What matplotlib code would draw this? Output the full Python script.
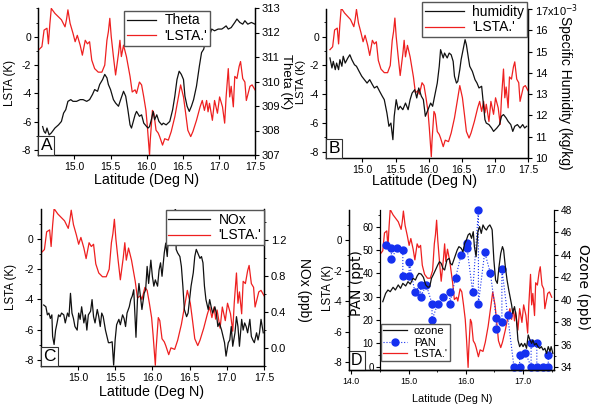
import matplotlib
matplotlib.use('Agg')
import matplotlib.pyplot as plt
from matplotlib.ticker import FixedLocator, MultipleLocator
from matplotlib.lines import Line2D

plt.rcParams['font.family'] = ['Liberation Sans', 'DejaVu Sans']
plt.rcParams['axes.unicode_minus'] = False
plt.rcParams['xtick.major.size'] = 3
plt.rcParams['ytick.major.size'] = 3
plt.rcParams['xtick.minor.size'] = 1.6
plt.rcParams['ytick.minor.size'] = 1.6
plt.rcParams['xtick.major.pad'] = 2
plt.rcParams['ytick.major.pad'] = 2
plt.rcParams['axes.linewidth'] = 0.9

# ---------------- data ----------------
lsta_lat = [14.51,14.55,14.58,14.62,14.64,14.66,14.68,14.73,14.78,14.82,14.87,14.89,14.91,14.94,14.98,
            15.01,15.04,15.08,15.11,15.15,15.18,15.21,15.24,15.28,15.33,15.38,15.42,15.45,15.47,15.49,
            15.51,15.54,15.57,15.61,15.63,15.65,15.68,15.72,15.77,15.80,15.84,15.86,15.90,15.93,15.96,
            15.99,16.01,16.04,16.05,16.08,16.10,16.13,16.16,16.18,16.22,16.25,16.30,16.34,16.39,16.44,
            16.47,16.51,16.54,16.57,16.61,16.64,16.69,16.74,16.77,16.80,16.83,16.85,16.87,16.91,16.94,
            16.98,17.01,17.05,17.08,17.10,17.13,17.15,17.17,17.20,17.22,17.25,17.28,17.30,17.33,17.36,
            17.38,17.40,17.43,17.46,17.50]
lsta = [-0.9,-0.7,0.47,0.6,-0.5,0.9,2.0,1.65,1.4,1.2,0.7,1.2,1.9,0.95,0.25,
        -0.35,0.1,-0.6,-1.3,-0.25,-0.5,-0.35,-1.65,-2.25,-2.5,-2.5,-2.0,-0.25,0.35,1.3,
        0.0,-1.4,-2.7,-1.2,-0.25,-1.4,-0.6,-1.4,-2.8,-3.9,-3.75,-4.0,-3.2,-3.4,-4.25,
        -5.2,-6.35,-8.35,-7.3,-5.2,-5.4,-6.6,-6.8,-7.05,-7.65,-7.2,-7.3,-6.7,-5.65,-4.25,
        -3.4,-4.25,-5.4,-6.6,-7.05,-6.7,-5.9,-4.95,-4.5,-5.2,-4.5,-5.3,-4.7,-5.9,-4.5,
        -5.4,-4.25,-4.95,-6.1,-4.25,-2.25,-4.25,-3.5,-4.95,-2.8,-2.95,-2.1,-1.75,-2.95,-3.2,
        -4.5,-4.1,-3.5,-3.4,-3.75]

theta_lat = [14.56,14.58,14.60,14.62,14.65,14.68,14.73,14.78,14.82,14.85,14.88,14.91,14.95,14.98,15.03,
             15.08,15.12,15.17,15.21,15.25,15.28,15.32,15.35,15.39,15.42,15.45,15.47,15.50,15.54,15.57,
             15.61,15.64,15.68,15.71,15.74,15.77,15.79,15.84,15.86,15.90,15.93,15.96,16.00,16.02,16.04,
             16.07,16.09,16.11,16.14,16.17,16.21,16.23,16.27,16.32,16.36,16.39,16.42,16.45,16.48,16.51,
             16.53,16.56,16.59,16.62,16.65,16.69,16.73,16.76,16.79,16.82,16.84,16.87,16.90,16.94,16.99,
             17.04,17.07,17.10,17.13,17.17,17.22,17.25,17.29,17.33,17.36,17.40,17.45,17.50]
theta = [308.16,307.96,307.89,308.1,307.82,307.9,308.1,308.23,308.37,308.71,308.85,309.19,309.26,309.19,309.19,
         309.26,309.26,309.19,309.26,309.47,309.67,309.6,309.88,310.08,310.29,310.15,309.88,309.67,309.26,309.12,
         308.99,309.26,309.6,309.4,308.85,308.23,308.1,308.64,308.78,308.58,308.64,308.3,308.16,308.1,308.16,
         308.5,308.78,308.44,308.64,308.37,308.23,308.3,308.23,308.37,308.85,309.4,310.08,310.42,310.29,310.08,
         309.4,308.99,308.78,308.99,309.26,309.81,310.63,311.18,311.32,311.73,312.0,311.86,312.14,312.07,312.14,
         312.14,312.2,312.27,312.14,312.2,312.41,312.55,312.41,312.34,312.48,312.34,312.41,312.34]

hum_lat = [14.51,14.54,14.56,14.59,14.61,14.64,14.66,14.69,14.71,14.74,14.78,14.81,14.84,14.88,14.91,
           14.95,14.99,15.03,15.07,15.11,15.15,15.18,15.22,15.26,15.30,15.33,15.37,15.40,15.43,15.46,
           15.48,15.51,15.54,15.57,15.61,15.65,15.69,15.72,15.75,15.79,15.82,15.85,15.89,15.92,15.95,
           15.99,16.03,16.06,16.09,16.13,16.16,16.18,16.22,16.24,16.28,16.31,16.34,16.37,16.39,16.42,
           16.44,16.47,16.49,16.52,16.55,16.57,16.60,16.62,16.66,16.70,16.73,16.76,16.80,16.82,16.85,
           16.87,16.91,16.95,16.98,17.03,17.07,17.10,17.13,17.17,17.20,17.24,17.27,17.30,17.34,17.38,
           17.42,17.45,17.48]
humidity = [14.70,14.23,14.54,14.15,14.46,14.15,14.62,14.31,14.78,14.46,14.70,14.85,14.62,14.38,14.31,
            14.07,13.84,13.68,13.52,13.68,13.45,13.29,13.37,13.13,12.90,12.74,12.11,11.49,11.64,10.86,
            11.96,12.74,12.27,12.43,12.27,12.58,12.27,12.74,13.05,13.21,12.82,13.29,12.90,12.74,11.96,
            12.27,12.58,12.43,12.90,13.52,14.31,15.09,14.70,14.93,14.70,14.93,14.85,14.54,13.84,13.52,
            13.60,14.15,14.62,15.09,15.56,15.32,14.70,14.31,14.07,13.68,13.52,13.29,13.37,12.74,11.80,
            11.64,11.57,11.41,11.25,11.41,11.57,11.96,12.04,11.88,11.72,11.57,11.25,11.49,11.57,11.41,
            11.57,11.41,11.49]  # x 1e-3 kg/kg

nox_lat = [14.54,14.57,14.59,14.61,14.63,14.65,14.66,14.68,14.70,14.72,14.74,14.76,14.78,14.81,14.83,
           14.86,14.88,14.90,14.92,14.94,14.96,14.99,15.01,15.03,15.05,15.08,15.10,15.12,15.14,15.17,
           15.19,15.21,15.23,15.26,15.28,15.30,15.32,15.34,15.37,15.39,15.41,15.43,15.46,15.48,15.50,
           15.52,15.55,15.57,15.60,15.62,15.64,15.66,15.69,15.71,15.73,15.75,15.78,15.80,15.82,15.84,
           15.86,15.89,15.91,15.93,15.95,15.98,16.00,16.02,16.04,16.07,16.09,16.11,16.13,16.16,16.18,
           16.20,16.22,16.25,16.27,16.29,16.31,16.32,16.34,16.37,16.39,16.41,16.43,16.46,16.48,16.50,
           16.52,16.55,16.57,16.59,16.61,16.64,16.66,16.68,16.70,16.72,16.75,16.77,16.79,16.81,16.84,
           16.86,16.88,16.90,16.93,16.95,16.97,16.99,17.02,17.04,17.06,17.08,17.11,17.13,17.15,17.17,
           17.20,17.22,17.24,17.26,17.28,17.31,17.33,17.35,17.37,17.40,17.42,17.44,17.46,17.49]
nox = [0.48,0.46,0.37,0.39,0.33,0.37,0.13,0.04,0.20,0.28,0.37,0.35,0.39,0.37,0.28,
       0.39,0.35,0.61,0.39,0.33,0.24,0.20,0.39,0.32,0.46,0.28,0.37,0.20,0.37,0.41,
       0.54,0.35,0.28,0.43,0.35,0.24,0.39,0.35,0.20,0.13,0.06,0.06,0.07,-0.19,0.09,
       0.26,0.32,0.26,0.37,0.33,0.24,0.39,0.46,0.54,0.58,0.65,0.12,0.54,0.72,0.58,
       0.43,0.61,0.65,0.91,0.72,0.98,0.80,0.69,0.76,0.69,0.87,0.95,0.80,1.06,1.17,
       1.02,1.28,1.36,1.32,1.28,1.60,1.10,1.06,1.02,0.91,0.69,0.43,0.35,0.39,0.54,
       0.69,0.84,1.02,1.10,1.06,1.00,1.02,0.95,0.69,0.54,0.43,0.54,0.46,0.39,0.46,
       0.39,0.24,0.28,0.20,0.13,0.06,-0.09,0.06,0.09,0.24,0.02,0.17,0.35,0.24,0.02,
       0.32,0.20,0.28,0.24,0.17,0.32,0.13,0.09,0.06,0.17,0.09,0.17,0.32,0.17]

ozone_lat = [14.55,14.60,14.64,14.68,14.73,14.77,14.82,14.86,14.90,14.95,14.99,15.03,15.08,15.12,15.15,
             15.18,15.22,15.26,15.30,15.34,15.37,15.40,15.43,15.47,15.51,15.54,15.57,15.60,15.63,15.67,
             15.71,15.73,15.76,15.81,15.85,15.88,15.92,15.95,15.98,16.01,16.04,16.07,16.10,16.13,16.15,
             16.18,16.21,16.24,16.27,16.30,16.33,16.36,16.39,16.42,16.45,16.46,16.49,16.52,16.55,16.58,
             16.61,16.64,16.66,16.69,16.72,16.75,16.80,16.82,16.85,16.88,16.91,16.94,16.97,17.00,17.03,
             17.06,17.09,17.12,17.15,17.17,17.20,17.23,17.26,17.29,17.32,17.35,17.38,17.41,17.44,17.47,
             17.49,17.52]
ozone = [39.84,40.58,40.88,40.73,41.12,40.88,41.33,41.03,41.47,41.24,41.62,41.41,41.92,41.77,42.13,
         42.36,42.30,42.01,41.33,41.12,41.18,41.92,42.22,42.66,43.11,43.40,43.25,42.81,42.66,43.55,
         43.70,43.25,43.11,43.85,44.44,44.74,44.59,44.29,45.03,45.33,45.78,45.92,45.48,46.07,44.74,
         43.85,46.07,46.52,45.92,46.67,46.37,46.22,46.52,46.67,46.37,46.22,43.55,41.77,41.47,42.96,
         44.14,44.74,44.44,42.96,41.77,40.88,39.55,38.80,39.40,38.51,36.43,35.84,36.13,35.84,36.13,
         35.69,36.88,36.43,36.13,36.43,35.99,36.13,35.84,35.69,35.84,35.54,35.69,35.24,35.84,35.39,
         35.84,35.24]

pan_lat = [14.60,14.70,14.70,14.80,14.90,14.90,15.01,15.01,15.11,15.21,15.21,15.31,15.41,15.41,15.51,
           15.61,15.72,15.72,15.82,15.92,16.02,16.02,16.12,16.22,16.22,16.33,16.43,16.53,16.53,16.63,
           16.63,16.73,16.84,16.94,16.94,17.04,17.14,17.14,17.24,17.24,17.34,17.44,17.44]
pan = [52,51,46,51,50,39,39,45,32,35,30,35,27,20,27,
       30,32,27,38,48,53,51,32,67,27,49,40,21,16,19,
       42,22,0,0,5,6,0,10,10,0,0,0,5]

lat_ticks = [15.0, 15.5, 16.0, 16.5, 17.0, 17.5]
lsta_ticks = [-8, -6, -4, -2, 0]
theta_ticks = [307, 308, 309, 310, 311, 312, 313]
hum_ticks = [10, 11, 12, 13, 14, 15, 16, 17]
hum_ticklabels = ['10', '11', '12', '13', '14', '15', '16', '17x10$^{-3}$']
nox_ticks = [0.0, 0.4, 0.8, 1.2]
d_lat_ticks = [14.0, 15.0, 16.0, 17.0]
pan_ticks = [0, 10, 20, 30, 40, 50, 60]
ozone_ticks = [34, 36, 38, 40, 42, 44, 46, 48]

# ---------------- styling ----------------
RED = '#ee2020'
BLK = '#111111'
BLUE = '#1530f0'
W, H = 593, 407
fig = plt.figure(figsize=(W / 100, H / 100), dpi=100)
TICK = 7.5


def rect(x0, y0, x1, y1):
    return [x0 / W, 1 - y1 / H, (x1 - x0) / W, (y1 - y0) / H]


def ftext(x, y, s, rot, size, **kw):
    fig.text(x / W, 1 - y / H, s, rotation=rot, ha='center', va='center',
             fontsize=size, **kw)


def letter(ax, s):
    ax.annotate(s, xy=(0, 0), xycoords='axes fraction', xytext=(1.6, 1.2),
                textcoords='offset points', ha='left', va='bottom', fontsize=12.5,
                bbox=dict(boxstyle='square,pad=0.12', fc='white', ec='#333333', lw=0.8),
                zorder=20)


def legend(ax, handles, labels, x, y, size, hl, loc='upper left'):
    leg = ax.legend(handles, labels, loc=loc, bbox_to_anchor=(x / W, 1 - y / H),
                    bbox_transform=fig.transFigure, borderaxespad=0, fancybox=False,
                    framealpha=1, edgecolor='#555555', fontsize=size, handlelength=hl,
                    borderpad=0.2, labelspacing=0.12, handletextpad=0.6)
    leg.get_frame().set_linewidth(1.0)
    leg.set_zorder(30)


def latx(ax, ticks, size):
    ax.xaxis.set_major_locator(FixedLocator(ticks))
    ax.set_xticklabels(['%.1f' % t for t in ticks], fontsize=size)


def standard_panel(box, xlim, ylim):
    ax = fig.add_axes(rect(*box))
    ax.plot(lsta_lat, lsta, color=RED, lw=0.9, zorder=3)
    ax.set_xlim(*xlim)
    ax.set_ylim(*ylim)
    ax.spines['top'].set_visible(False)
    latx(ax, lat_ticks, TICK)
    ax.yaxis.set_major_locator(FixedLocator(lsta_ticks))
    ax.set_yticklabels([str(t) for t in lsta_ticks], fontsize=TICK)
    ax.yaxis.set_minor_locator(MultipleLocator(1))
    ax2 = ax.twinx()
    ax2.spines['top'].set_visible(False)
    ax2.set_xlim(*xlim)
    return ax, ax2


# ---------------- Panel A ----------------
axA, axA2 = standard_panel((38.3, 8, 255, 155), (14.5, 17.5), (-8.35, 2.03))
axA2.plot(theta_lat, theta, color=BLK, lw=0.9)
axA2.set_ylim(307, 313)
axA2.yaxis.set_major_locator(FixedLocator(theta_ticks))
axA2.set_yticklabels([str(t) for t in theta_ticks], fontsize=TICK + 0.5)
legend(axA2, [Line2D([], [], color=BLK, lw=0.9), Line2D([], [], color=RED, lw=0.9)],
       ['Theta', "'LSTA.'"], 124, 10.7, 10, 2.1)
letter(axA2, 'A')
ftext(147, 180, 'Latitude (Deg N)', 0, 10.3)
ftext(10, 83, 'LSTA (K)', 90, 8.3)
ftext(286.5, 82, 'Theta (K)', -90, 9.5)

# ---------------- Panel B ----------------
axB, axB2 = standard_panel((326, 9, 528, 158), (14.45, 17.5), (-8.44, 1.93))
axB2.plot(hum_lat, humidity, color=BLK, lw=0.9)
axB2.set_ylim(10, 17)
axB2.yaxis.set_major_locator(FixedLocator(hum_ticks))
axB2.set_yticklabels(hum_ticklabels, fontsize=TICK + 0.5)
legend(axB2, [Line2D([], [], color=BLK, lw=0.9), Line2D([], [], color=RED, lw=0.9)],
       ['humidity', "'LSTA.'"], 422, 2, 10, 2.8)
letter(axB2, 'B')
ftext(425, 181, 'Latitude (Deg N)', 0, 10.3)
ftext(300.5, 82, 'LSTA (K)', 90, 8)
ftext(565, 93, 'Specific Humidity (kg/kg)', -90, 10)

# ---------------- Panel C ----------------
axC, axC2 = standard_panel((40.7, 209, 264, 366), (14.5, 17.5), (-8.40, 1.98))
axC2.plot(nox_lat, nox, color=BLK, lw=0.9)
axC2.set_ylim(-0.2, 1.55)
axC2.yaxis.set_major_locator(FixedLocator(nox_ticks))
axC2.set_yticklabels(['%.1f' % t for t in nox_ticks], fontsize=TICK + 0.5)
axC2.yaxis.set_minor_locator(MultipleLocator(0.2))
legend(axC2, [Line2D([], [], color=BLK, lw=0.9), Line2D([], [], color=RED, lw=0.9)],
       ['NOx', "'LSTA.'"], 264, 210, 10, 3.0, loc='upper right')
letter(axC2, 'C')
ftext(152, 392, 'Latitude (Deg N)', 0, 10.3)
ftext(11, 287, 'LSTA (K)', 90, 8.3)
ftext(304, 290, 'NOx (ppb)', -90, 10)

# ---------------- Panel D ----------------
PAN_SPINE = 14.51
axD = fig.add_axes(rect(349, 210, 554, 370))
axD.plot(lsta_lat, lsta, color=RED, lw=0.9)
axD.set_xlim(13.96, 17.54)
axD.set_ylim(-8.52, 1.97)
axD.spines['top'].set_visible(False)
axD.spines['right'].set_visible(False)
latx(axD, d_lat_ticks, 6.3)
axD.xaxis.set_minor_locator(FixedLocator([14.5, 15.5, 16.5, 17.5]))
axD.yaxis.set_major_locator(FixedLocator(lsta_ticks))
axD.set_yticklabels([str(t) for t in lsta_ticks], fontsize=7)
axD.yaxis.set_minor_locator(MultipleLocator(1))

axP = axD.twinx()
axP.set_xlim(13.96, 17.54)
axP.yaxis.tick_left()
axP.spines['left'].set_position(('data', PAN_SPINE))
axP.spines['left'].set_visible(True)
axP.spines['right'].set_visible(False)
axP.spines['top'].set_visible(False)
axP.plot(pan_lat, pan, color=BLUE, lw=0.8, ls=':', marker='o', ms=5,
         mec=BLUE, mfc=BLUE, clip_on=False)
axP.set_ylim(-1.41, 67.1)
axP.yaxis.set_major_locator(FixedLocator(pan_ticks))
axP.set_yticklabels([str(t) for t in pan_ticks], fontsize=7)
axP.yaxis.set_minor_locator(MultipleLocator(5))

axO = axD.twinx()
axO.set_xlim(13.96, 17.54)
axO.spines['top'].set_visible(False)
axO.plot(ozone_lat, ozone, color=BLK, lw=0.9)
axO.set_ylim(33.76, 48)
axO.yaxis.set_major_locator(FixedLocator(ozone_ticks))
axO.set_yticklabels([str(t) for t in ozone_ticks], fontsize=7.3)
axO.yaxis.set_minor_locator(MultipleLocator(1))
legend(axO, [Line2D([], [], color=BLK, lw=0.9),
             Line2D([], [], color=BLUE, lw=0.8, ls=':', marker='o', ms=5),
             Line2D([], [], color=RED, lw=0.9)],
       ['ozone', 'PAN', "'LSTA.'"], 380.5, 324, 8, 2.2, loc='upper left')
axD.annotate('D', xy=(0, 0), xycoords='axes fraction', xytext=(1.6, 1.2),
             textcoords='offset points', ha='left', va='bottom', fontsize=11.5,
             bbox=dict(boxstyle='square,pad=0.12', fc='white', ec='#333333', lw=0.8))
ftext(452, 399, 'Latitude (Deg N)', 0, 7.8)
ftext(328, 288, 'LSTA (K)', 90, 8.3)
ftext(357, 283, 'PAN (ppt)', 90, 10, family='DejaVu Sans')
ftext(583, 287, 'Ozone (ppb)', -90, 10, family='DejaVu Sans')

fig.savefig('out.png', dpi=100)
